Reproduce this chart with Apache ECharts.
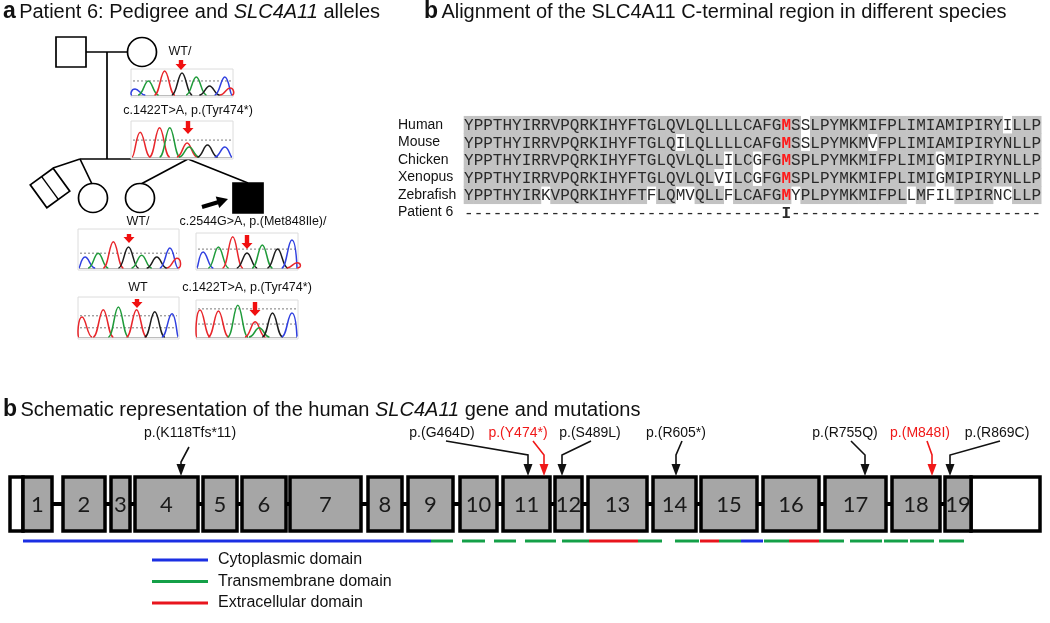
<!DOCTYPE html>
<html>
<head>
<meta charset="utf-8">
<script src="https://cdn.jsdelivr.net/npm/echarts@6/dist/echarts.min.js"></script>
<style>
  html, body { margin: 0; padding: 0; background: #fff; }
  #main { width: 1050px; height: 623px; }
</style>
</head>
<body>
<div id="main"></div>
<script>
// ---------- titles ----------
var titleRich = [
  '{b|a} {n|Patient 6: Pedigree and }{i|SLC4A11}{n| alleles}',
  '{b|b} {n|Alignment of the SLC4A11 C-terminal region in different species}',
  '{b|b} {n|Schematic representation of the human }{i|SLC4A11}{n| gene and mutations}'
];
var titleX = [3, 424, 3];
var titleY = [12, 12, 410];

// ---------- panel a: pedigree ----------
var pedShape = ['square', 'circle', 'twin', 'circle', 'circle', 'square'];
var pedX = [71, 142, 50, 93, 140, 248];
var pedY = [52, 52, 188, 198, 198, 198];
var pedFilled = [0, 0, 0, 0, 0, 1];
var pedLines = [
  [86, 52, 128, 52], [107, 52, 107, 159], [80, 159, 188, 159],
  [80, 159, 53, 168], [80, 159, 92, 184], [188, 159, 141, 184], [188, 159, 248, 183]
];
var probandArrow = [202, 207, 228, 199];

// chromatograms
var chromLabel = ['WT/', 'c.1422T>A, p.(Tyr474*)', 'WT/', 'WT', 'c.2544G>A, p.(Met848Ile)/', 'c.1422T>A, p.(Tyr474*)'];
var chromLabelX = [180, 188, 138, 138, 253, 247];
var chromLabelY = [52, 111, 222, 288, 222, 288];
var chromLeft = [131, 131, 78, 78, 196, 196];
var chromRight = [233, 233, 179, 179, 298, 298];
var chromTop = [69, 121, 229, 297, 233, 300];
var chromBase = [95, 157, 268, 337, 268, 337];
var chromArrowX = [181, 188, 129, 137, 247, 255];
var chromArrowTop = [60, 121, 234, 299, 235, 302];
var chromArrowLen = [10, 13, 9, 9, 14, 14];
var chromDash = [[0.54], [0.47], [0.38], [0.53, 0.23], [0.54], [0.76, 0.35]];
// [position along trace, peak height, base]
var chromPeaks = [
  [[0.04, 0.23, 'B'], [0.17, 0.54, 'G'], [0.33, 0.92, 'R'], [0.5, 0.85, 'K'], [0.64, 0.69, 'G'], [0.77, 0.35, 'K'], [0.92, 0.69, 'B'], [0.97, 0.27, 'R']],
  [[0.09, 0.69, 'R'], [0.28, 0.81, 'R'], [0.38, 0.81, 'G'], [0.55, 0.39, 'R'], [0.57, 0.28, 'G'], [0.75, 0.33, 'K'], [0.92, 0.28, 'B']],
  [[0.07, 0.28, 'B'], [0.2, 0.38, 'G'], [0.35, 0.67, 'R'], [0.5, 0.54, 'K'], [0.63, 0.33, 'G'], [0.78, 0.28, 'K'], [0.91, 0.51, 'B'], [0.98, 0.25, 'R']],
  [[0.04, 0.5, 'R'], [0.25, 0.68, 'R'], [0.4, 0.75, 'G'], [0.58, 0.68, 'R'], [0.76, 0.63, 'K'], [0.93, 0.58, 'B']],
  [[0.07, 0.46, 'B'], [0.22, 0.6, 'G'], [0.36, 0.89, 'R'], [0.5, 0.43, 'K'], [0.65, 0.66, 'G'], [0.8, 0.54, 'K'], [0.94, 0.8, 'B'], [0.99, 0.15, 'R']],
  [[0.04, 0.73, 'R'], [0.22, 0.7, 'R'], [0.41, 0.86, 'G'], [0.58, 0.41, 'R'], [0.62, 0.25, 'G'], [0.75, 0.65, 'K'], [0.94, 0.65, 'B']]
];
var traceColor = { R: '#e8262b', G: '#1f9b3a', B: '#2f3fe0', K: '#1c1c1c' };

// ---------- panel b: alignment ----------
var species = ['Human', 'Mouse', 'Chicken', 'Xenopus', 'Zebrafish', 'Patient 6'];
var seqs = [
  'YPPTHYIRRVPQRKIHYFTGLQVLQLLLLCAFGMSSLPYMKMIFPLIMIAMIPIRYILLP',
  'YPPTHYIRRVPQRKIHYFTGLQILQLLLLCAFGMSSLPYMKMVFPLIMIAMIPIRYNLLP',
  'YPPTHYIRRVPQRKIHYFTGLQVLQLLILCGFGMSPLPYMKMIFPLIMIGMIPIRYNLLP',
  'YPPTHYIRRVPQRKIHYFTGLQVLQLVILCGFGMSPLPYMKMIFPLIMIGMIPIRYNLLP',
  'YPPTHYIRKVPQRKIHYFTFLQMVQLLFLCAFGMYPLPYMKMIFPLLMFILIPIRNCLLP',
  '---------------------------------I--------------------------'
];
var mutColumn = 33;

// ---------- panel b: gene schematic ----------
var exonNames = ['1', '2', '3', '4', '5', '6', '7', '8', '9', '10', '11', '12', '13', '14', '15', '16', '17', '18', '19'];
var exonStart = [23, 63, 111, 135, 203, 242, 290, 368, 408, 460, 503, 555, 588, 653, 701, 763, 825, 892, 945];
var exonEnd = [52, 105, 130, 198, 237, 286, 361, 402, 453, 497, 550, 582, 647, 696, 757, 819, 886, 940, 971];
var utrStart = [10, 971];
var utrEnd = [23, 1040];

var domStart = [23, 431, 462, 494, 525, 562, 589, 638, 675, 700, 719, 741, 764, 789, 819, 850, 884, 910, 939];
var domEnd = [431, 453, 485, 516, 556, 589, 638, 662, 699, 719, 741, 763, 789, 819, 844, 882, 908, 934, 964];
var domType = ['cyto', 'tm', 'tm', 'tm', 'tm', 'tm', 'ext', 'tm', 'tm', 'ext', 'tm', 'cyto', 'tm', 'ext', 'tm', 'tm', 'tm', 'tm', 'tm'];
var domColor = { cyto: '#1b2fe3', tm: '#14a048', ext: '#e8151d' };
var legendNames = ['Cytoplasmic domain', 'Transmembrane domain', 'Extracellular domain'];
var legendTypes = ['cyto', 'tm', 'ext'];

var mutLabel = ['p.(K118Tfs*11)', 'p.(G464D)', 'p.(Y474*)', 'p.(S489L)', 'p.(R605*)', 'p.(R755Q)', 'p.(M848I)', 'p.(R869C)'];
var mutLabelX = [190, 442, 518, 590, 676, 845, 920, 997];
var mutNew = [0, 0, 1, 0, 0, 0, 1, 0];
var mutLineX = [189, 446, 533, 591, 682, 851, 927, 1000];
var mutTipX = [181, 528, 544, 562, 676, 865, 932, 950];

var chart = echarts.init(document.getElementById('main'));

function pt(api, x, y) { return api.coord([x, y]); }
function seg(api, x1, y1, x2, y2, color, w, dash) {
  var a = pt(api, x1, y1), b = pt(api, x2, y2);
  return { type: 'line', shape: { x1: a[0], y1: a[1], x2: b[0], y2: b[1] },
    style: { stroke: color, lineWidth: w, lineDash: dash || null } };
}
function head(api, tx, ty, fx, fy, len, half, color) {
  var dx = tx - fx, dy = ty - fy, d = Math.sqrt(dx * dx + dy * dy);
  var ux = dx / d, uy = dy / d, bx = tx - ux * len, by = ty - uy * len;
  return { type: 'polygon', shape: { points: [pt(api, tx, ty), pt(api, bx - uy * half, by + ux * half), pt(api, bx + uy * half, by - ux * half)] },
    style: { fill: color } };
}
function txt(api, x, y, s, font, color, align) {
  var p = pt(api, x, y);
  return { type: 'text', x: p[0], y: p[1], style: { text: s, font: font, fill: color, align: align || 'center', verticalAlign: 'middle' } };
}
function idx(arr) { return arr.map(function (v, i) { return [i, i]; }); }

// consensus per column (ties go to the first row that has the residue)
function consensus(col) {
  var cnt = {}, best = null;
  for (var r = 0; r < 5; r++) {
    var c = seqs[r][col];
    cnt[c] = (cnt[c] || 0) + 1;
  }
  for (var r2 = 0; r2 < 5; r2++) {
    var c2 = seqs[r2][col];
    if (best === null || cnt[c2] > cnt[best]) best = c2;
  }
  return best;
}

var series = [];

// titles
series.push({
  type: 'custom', silent: true, data: idx(titleRich),
  renderItem: function (params, api) {
    var i = params.dataIndex, p = pt(api, titleX[i], titleY[i]);
    return { type: 'text', x: p[0], y: p[1], style: {
      text: titleRich[i], align: 'left', verticalAlign: 'middle',
      rich: {
        b: { fontFamily: 'Liberation Sans', fontWeight: 'bold', fontSize: 23, fill: '#111' },
        n: { fontFamily: 'Liberation Sans', fontSize: 20, fill: '#111' },
        i: { fontFamily: 'Liberation Sans', fontStyle: 'italic', fontSize: 20, fill: '#111' }
      } } };
  }
});

// pedigree lines
series.push({
  type: 'custom', silent: true, data: idx(pedLines),
  renderItem: function (params, api) {
    var l = pedLines[params.dataIndex];
    return seg(api, l[0], l[1], l[2], l[3], '#000', 1.7);
  }
});

// pedigree symbols
series.push({
  type: 'custom', silent: true, data: idx(pedShape),
  renderItem: function (params, api) {
    var i = params.dataIndex, c = pt(api, pedX[i], pedY[i]);
    var st = { fill: pedFilled[i] ? '#000' : '#fff', stroke: '#000', lineWidth: 1.7 };
    if (pedShape[i] === 'square') {
      return { type: 'rect', shape: { x: c[0] - 15, y: c[1] - 15, width: 30, height: 30 }, style: st };
    }
    if (pedShape[i] === 'circle') {
      return { type: 'circle', shape: { cx: c[0], cy: c[1], r: 14.5 }, style: st };
    }
    var pts = [];
    for (var k = 0; k < 4; k++) {
      var a = (-81 + 90 * k) * Math.PI / 180;
      pts.push([c[0] + 20 * Math.cos(a), c[1] + 20 * Math.sin(a)]);
    }
    var m1 = [(pts[0][0] + pts[3][0]) / 2, (pts[0][1] + pts[3][1]) / 2];
    var m2 = [(pts[1][0] + pts[2][0]) / 2, (pts[1][1] + pts[2][1]) / 2];
    return { type: 'group', children: [
      { type: 'polygon', shape: { points: pts }, style: st },
      { type: 'line', shape: { x1: m1[0], y1: m1[1], x2: m2[0], y2: m2[1] }, style: { stroke: '#000', lineWidth: 1.4 } }
    ] };
  }
});

// proband arrow
series.push({
  type: 'custom', silent: true, data: [[0, 0]],
  renderItem: function (params, api) {
    var a = probandArrow;
    return { type: 'group', children: [
      seg(api, a[0], a[1], a[2] - 6, a[3] + 2, '#000', 4),
      head(api, a[2], a[3], a[0], a[1], 11, 6, '#000')
    ] };
  }
});

// chromatograms
series.push({
  type: 'custom', silent: true, data: idx(chromLabel),
  renderItem: function (params, api) {
    var i = params.dataIndex;
    var L = chromLeft[i], R = chromRight[i], T = chromTop[i], B = chromBase[i];
    var W = R - L, H = B - T;
    var tl = pt(api, L, T), br = pt(api, R, B + 2);
    var kids = [];
    kids.push({ type: 'rect', shape: { x: tl[0], y: tl[1], width: br[0] - tl[0], height: br[1] - tl[1] },
      style: { fill: '#fff', stroke: '#dcdcdc', lineWidth: 1 } });
    chromDash[i].forEach(function (f) {
      kids.push(seg(api, L + 2, B - f * H, R - 2, B - f * H, '#7a7a7a', 1, [2, 2]));
    });
    kids.push(seg(api, L + 1, B + 0.5, R - 1, B + 0.5, '#bdbdbd', 1));
    chromPeaks[i].forEach(function (p) {
      var cx = L + p[0] * W, top = B - p[1] * H, hw = 0.1 * W;
      var x0 = Math.max(L + 1, cx - hw), x1 = Math.min(R - 1, cx + hw);
      var a = pt(api, x0, B), m = pt(api, cx, top), b = pt(api, x1, B);
      var k = hw;
      var d = 'M' + a[0] + ' ' + a[1] +
        ' C' + (m[0] - k * 0.5) + ' ' + a[1] + ' ' + (m[0] - k * 0.4) + ' ' + m[1] + ' ' + m[0] + ' ' + m[1] +
        ' C' + (m[0] + k * 0.4) + ' ' + m[1] + ' ' + (m[0] + k * 0.5) + ' ' + b[1] + ' ' + b[0] + ' ' + b[1];
      kids.push({ type: 'path', shape: { pathData: d }, style: { fill: null, stroke: traceColor[p[2]], lineWidth: 1.5 } });
    });
    // red arrow
    var ax = chromArrowX[i], ay = chromArrowTop[i], al = chromArrowLen[i];
    kids.push({ type: 'polygon', shape: { points: [
      pt(api, ax - 2.2, ay), pt(api, ax + 2.2, ay), pt(api, ax + 2.2, ay + al - 6), pt(api, ax + 5.5, ay + al - 6),
      pt(api, ax, ay + al), pt(api, ax - 5.5, ay + al - 6), pt(api, ax - 2.2, ay + al - 6)] },
      style: { fill: '#f01010' } });
    kids.push(txt(api, chromLabelX[i], chromLabelY[i], chromLabel[i], '12.5px "Liberation Sans"', '#111'));
    return { type: 'group', children: kids };
  }
});

// alignment labels
series.push({
  type: 'custom', silent: true, data: idx(species),
  renderItem: function (params, api) {
    var i = params.dataIndex;
    return txt(api, 398, 125 + 17.5 * i, species[i], '14px "Liberation Sans"', '#111', 'left');
  }
});

// alignment cells
var cellIdx = [];
seqs.forEach(function (s, r) { for (var c = 0; c < s.length; c++) cellIdx.push([r, c]); });
series.push({
  type: 'custom', silent: true, data: cellIdx,
  renderItem: function (params, api) {
    var r = api.value(0), c = api.value(1), ch = seqs[r][c];
    var colW = 9.62, x0 = 464 + colW * c, yc = 125 + 17.5 * r;
    var kids = [];
    if (r < 5 && ch === consensus(c)) {
      var a = pt(api, x0, yc - 8.75), b = pt(api, x0 + colW, yc + 8.75);
      kids.push({ type: 'rect', shape: { x: a[0] - 0.3, y: a[1] - 0.3, width: b[0] - a[0] + 0.6, height: b[1] - a[1] + 0.6 },
        style: { fill: '#c3c3c3' } });
    }
    var hl = (c === mutColumn);
    kids.push(txt(api, x0 + colW / 2, yc + 1, ch,
      (hl ? 'bold ' : '') + '16px "Liberation Mono"', (hl && r < 5) ? '#ff1a1a' : '#2a2a2a'));
    return { type: 'group', children: kids };
  }
});

// introns
var gaps = exonEnd.slice(0, -1).map(function (e, i) { return [e, exonStart[i + 1]]; });
series.push({
  type: 'custom', silent: true, data: gaps,
  renderItem: function (params, api) {
    return seg(api, api.value(0), 504, api.value(1), 504, '#000', 4);
  }
});

// UTRs
series.push({
  type: 'custom', silent: true, data: idx(utrStart),
  renderItem: function (params, api) {
    var i = params.dataIndex, a = pt(api, utrStart[i], 477), b = pt(api, utrEnd[i], 531);
    return { type: 'rect', shape: { x: a[0], y: a[1], width: b[0] - a[0], height: b[1] - a[1] },
      style: { fill: '#fff', stroke: '#000', lineWidth: 3.5 } };
  }
});

// exons
series.push({
  type: 'custom', silent: true, data: idx(exonNames),
  renderItem: function (params, api) {
    var i = params.dataIndex, a = pt(api, exonStart[i], 477), b = pt(api, exonEnd[i], 531);
    return { type: 'group', children: [
      { type: 'rect', shape: { x: a[0], y: a[1], width: b[0] - a[0], height: b[1] - a[1] },
        style: { fill: '#a6a6a6', stroke: '#000', lineWidth: 3.5 } },
      txt(api, (exonStart[i] + exonEnd[i]) / 2, 505, exonNames[i], '22px Lato', '#1a1a1a')
    ] };
  }
});

// protein domains under the exons
series.push({
  type: 'custom', silent: true, data: idx(domStart),
  renderItem: function (params, api) {
    var i = params.dataIndex;
    return seg(api, domStart[i], 541, domEnd[i], 541, domColor[domType[i]], 3);
  }
});

// legend
series.push({
  type: 'custom', silent: true, data: idx(legendNames),
  renderItem: function (params, api) {
    var i = params.dataIndex, y = 560 + 21.5 * i;
    return { type: 'group', children: [
      seg(api, 152, y, 208, y, domColor[legendTypes[i]], 3),
      txt(api, 218, y, legendNames[i], '16px "Liberation Sans"', '#111', 'left')
    ] };
  }
});

// mutations
series.push({
  type: 'custom', silent: true, data: idx(mutLabel),
  renderItem: function (params, api) {
    var i = params.dataIndex, col = mutNew[i] ? '#f01818' : '#111';
    var sy = i === 0 ? 447 : 441, by = i === 0 ? 462 : 455;
    var a = pt(api, mutLineX[i], sy), m = pt(api, mutTipX[i], by), e = pt(api, mutTipX[i], 466);
    return { type: 'group', children: [
      txt(api, mutLabelX[i], 433, mutLabel[i], '14px "Liberation Sans"', col),
      { type: 'polyline', shape: { points: [a, m, e] }, style: { stroke: col, lineWidth: 1.6, fill: null } },
      head(api, mutTipX[i], 476, mutTipX[i], 460, 12, 4.5, col)
    ] };
  }
});

chart.setOption({
  animation: false,
  grid: { left: 0, right: 0, top: 0, bottom: 0 },
  xAxis: { type: 'value', min: 0, max: 1050, show: false },
  yAxis: { type: 'value', min: 0, max: 623, inverse: true, show: false },
  series: series
});
</script>
</body>
</html>
